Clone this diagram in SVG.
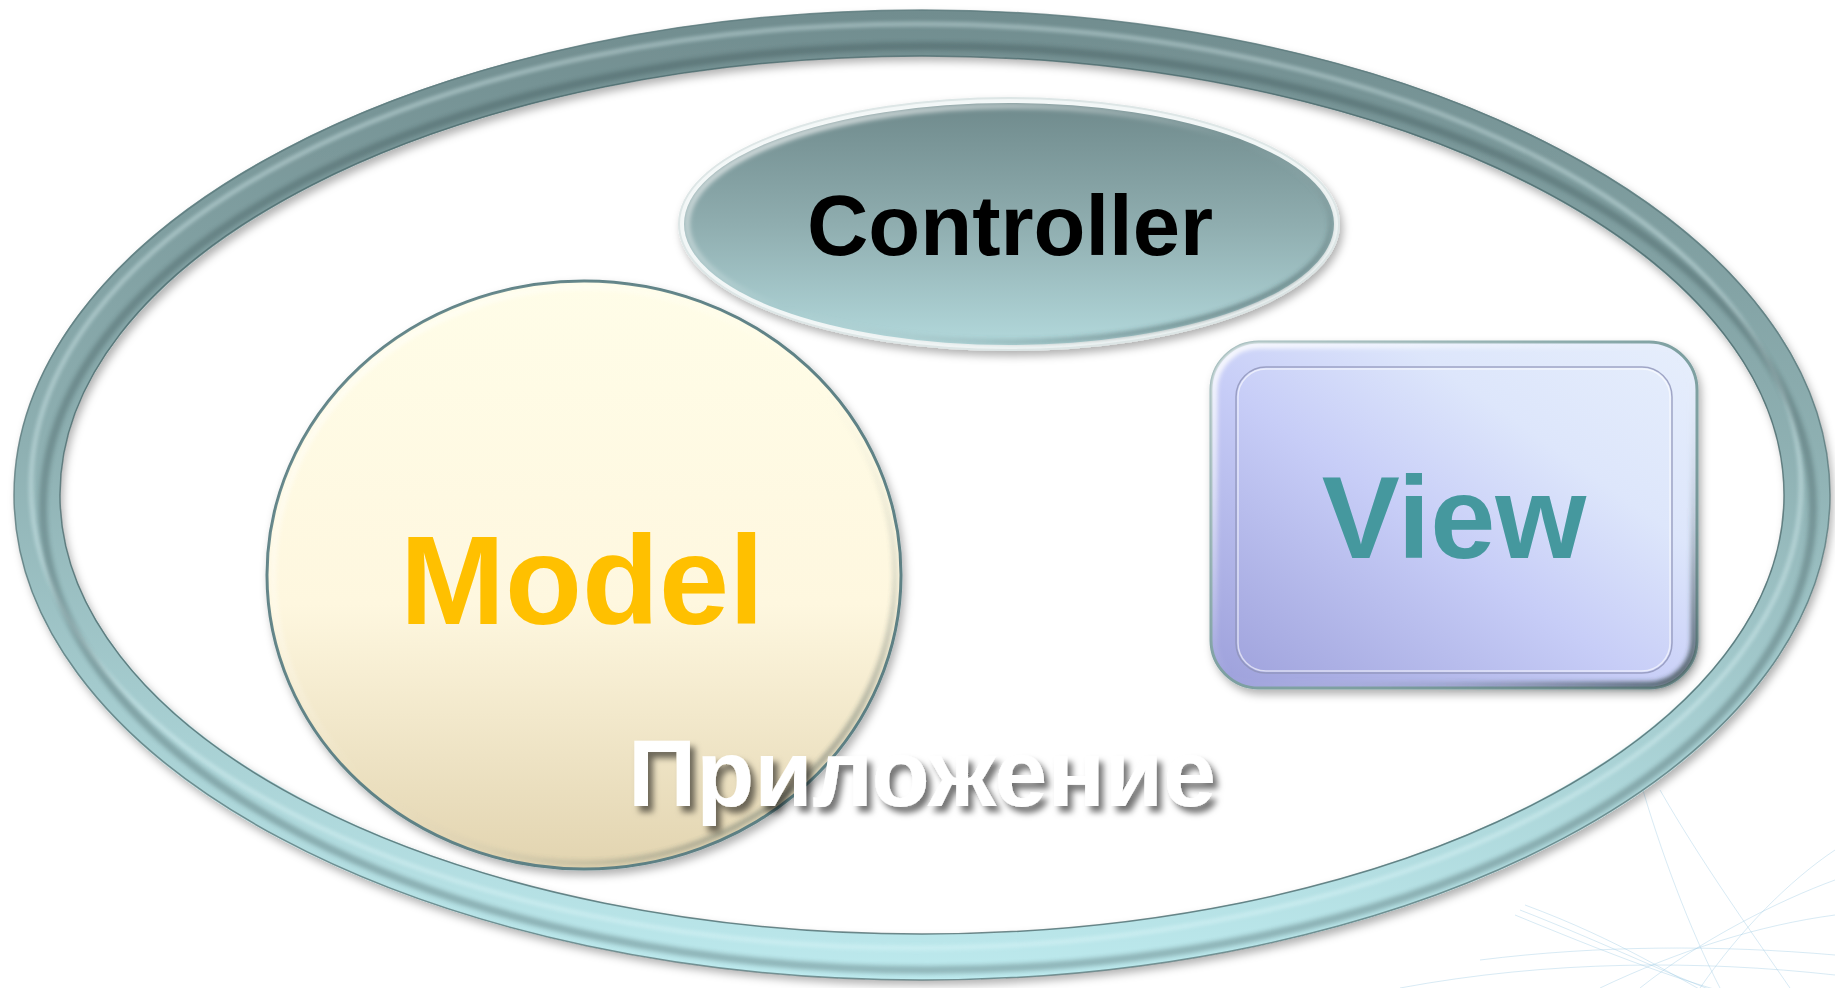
<svg xmlns="http://www.w3.org/2000/svg" width="1835" height="988" viewBox="0 0 1835 988">
  <style>
    .lbl { font-family: "Liberation Sans", Arial, sans-serif; font-weight: bold; text-anchor: middle; }
    .deco { fill: none; stroke: #9ECBE3; stroke-width: 1; opacity: 0.4; }
  </style>
  <defs>
    <linearGradient id="ringGrad" gradientUnits="userSpaceOnUse" x1="0" y1="10" x2="0" y2="980">
      <stop offset="0" stop-color="#718D8F"/>
      <stop offset="0.45" stop-color="#8EB0B2"/>
      <stop offset="1" stop-color="#BDEAEE"/>
    </linearGradient>
    <linearGradient id="ctrlGrad" x1="0" y1="0" x2="0" y2="1">
      <stop offset="0" stop-color="#6F8A8C"/>
      <stop offset="0.5" stop-color="#8FADAF"/>
      <stop offset="1" stop-color="#B2D8DB"/>
    </linearGradient>
    <linearGradient id="modelGrad" x1="0" y1="0" x2="0" y2="1">
      <stop offset="0" stop-color="#FFFDE8"/>
      <stop offset="0.55" stop-color="#FEF7DF"/>
      <stop offset="1" stop-color="#E2D4B0"/>
    </linearGradient>
    <linearGradient id="viewGrad" x1="0" y1="1" x2="1" y2="0">
      <stop offset="0" stop-color="#9C9FDA"/>
      <stop offset="0.45" stop-color="#C7CDF7"/>
      <stop offset="0.7" stop-color="#DDE6FB"/>
      <stop offset="1" stop-color="#E6EEFC"/>
    </linearGradient>
    <linearGradient id="bevelGrad" x1="0" y1="0" x2="1" y2="1">
      <stop offset="0" stop-color="#FFFFFF" stop-opacity="0.9"/>
      <stop offset="0.5" stop-color="#FFFFFF" stop-opacity="0"/>
      <stop offset="0.75" stop-color="#3F5557" stop-opacity="0.2"/>
      <stop offset="1" stop-color="#2E3E40" stop-opacity="0.8"/>
    </linearGradient>
    <filter id="shadow" x="-10%" y="-10%" width="120%" height="120%">
      <feDropShadow dx="3" dy="5" stdDeviation="4" flood-color="#000" flood-opacity="0.3"/>
    </filter>
    <filter id="soft" x="-5%" y="-5%" width="110%" height="110%">
      <feGaussianBlur stdDeviation="2"/>
    </filter>
    <filter id="txtShadow" x="-10%" y="-30%" width="120%" height="160%">
      <feDropShadow dx="5" dy="6" stdDeviation="3" flood-color="#000" flood-opacity="0.55"/>
    </filter>
    <clipPath id="ringClip">
      <path fill-rule="evenodd" d="M 14 495 a 908 485 0 1 0 1816 0 a 908 485 0 1 0 -1816 0 Z M 60 495 a 862 439 0 1 0 1724 0 a 862 439 0 1 0 -1724 0 Z"/>
    </clipPath>
  </defs>

  <rect width="1835" height="988" fill="#FFFFFF"/>

  <!-- faint background swooshes -->
  <g id="background-deco">
    <path class="deco" d="M 1515 915 C 1600 950 1700 990 1760 1000"/>
    <path class="deco" d="M 1520 910 C 1610 945 1690 985 1740 1000"/>
    <path class="deco" d="M 1525 905 C 1620 940 1680 980 1720 1000"/>
    <path class="deco" d="M 1640 988 C 1700 940 1780 900 1835 880"/>
    <path class="deco" d="M 1600 988 C 1680 950 1760 925 1835 915"/>
    <path class="deco" d="M 1700 988 C 1740 930 1790 880 1835 850"/>
    <path class="deco" d="M 1640 780 C 1660 850 1690 930 1720 988"/>
    <path class="deco" d="M 1660 790 C 1700 860 1750 930 1790 988"/>
    <path class="deco" d="M 1480 960 C 1600 945 1720 945 1835 955"/>
    <path class="deco" d="M 1400 988 C 1550 960 1700 960 1835 975"/>
  </g>

  <!-- Application ring -->
  <g id="app">
    <ellipse cx="922" cy="495" rx="885" ry="462" fill="none" stroke="url(#ringGrad)" stroke-width="46" filter="url(#shadow)"/>
    <g clip-path="url(#ringClip)">
      <ellipse cx="916" cy="486" rx="885" ry="462" fill="none" stroke="#E6FBFD" stroke-width="3" opacity="0.6" filter="url(#soft)"/>
      <ellipse cx="928" cy="508" rx="885" ry="462" fill="none" stroke="#2F4547" stroke-width="8" opacity="0.3" filter="url(#soft)"/>
    </g>
    <ellipse cx="922" cy="495" rx="908" ry="485" fill="none" stroke="#5C7A7D" stroke-width="1.5" opacity="0.8"/>
    <ellipse cx="922" cy="495" rx="862" ry="439" fill="none" stroke="#4E6B6E" stroke-width="1.5" opacity="0.8"/>
  </g>

  <g id="connectors"/>

  <!-- Controller -->
  <g id="controller">
    <ellipse cx="1009" cy="224" rx="330" ry="126" fill="#F1F6F6" stroke="#DDE6E6" stroke-width="2" filter="url(#shadow)"/>
    <ellipse cx="1009" cy="224" rx="325" ry="121" fill="url(#ctrlGrad)"/>
    <ellipse cx="1009" cy="224" rx="322" ry="118" fill="none" stroke="url(#bevelGrad)" stroke-width="6" filter="url(#soft)"/>
    <text class="lbl" x="1010" y="255" font-size="85" fill="#000000">Controller</text>
  </g>

  <!-- Model -->
  <g id="model">
    <ellipse cx="584" cy="575" rx="317" ry="294" fill="url(#modelGrad)" stroke="#5F8286" stroke-width="3" filter="url(#shadow)"/>
    <ellipse cx="584" cy="575" rx="311" ry="288" fill="none" stroke="url(#bevelGrad)" stroke-width="6" filter="url(#soft)" opacity="0.8"/>
    <text class="lbl" x="582" y="624" font-size="126" fill="#FFC000">Model</text>
  </g>

  <!-- View -->
  <g id="view">
    <rect x="1211" y="342" width="486" height="346" rx="48" ry="48" fill="url(#viewGrad)" stroke="#7C9FA0" stroke-width="3" filter="url(#shadow)"/>
    <rect x="1214" y="345" width="480" height="340" rx="45" ry="45" fill="none" stroke="url(#bevelGrad)" stroke-width="7" filter="url(#soft)"/>
    <rect x="1236" y="367" width="436" height="306" rx="30" ry="30" fill="none" stroke="#8F94B8" stroke-width="1.5" opacity="0.8"/>
    <rect x="1238" y="369" width="432" height="302" rx="28" ry="28" fill="none" stroke="#FFFFFF" stroke-width="1.5" opacity="0.6"/>
    <text class="lbl" x="1454" y="558" font-size="117" fill="#45989E">View</text>
  </g>

  <!-- Application label -->
  <g id="app-label">
    <text class="lbl" x="922" y="806" font-size="95" fill="#FFFFFF" filter="url(#txtShadow)">Приложение</text>
  </g>
</svg>
